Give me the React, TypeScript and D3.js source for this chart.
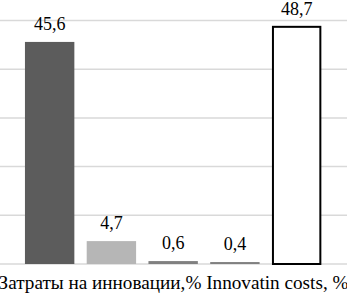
import React from 'react';
import * as d3 from 'd3';

const seriesKeys = ['s1', 's2', 's3', 's4', 's5'];
const seriesValues = [45.6, 4.7, 0.6, 0.4, 48.7];
const valueLabels = ['45,6', '4,7', '0,6', '0,4', '48,7'];
const categoryLabel = 'Затраты на инновации,% Innovatin costs, %';
const yTicks = [0, 10, 20, 30, 40, 50];

const fills = ['#5c5c5c', '#b6b6b6', '#808080', '#808080', '#ffffff'];
const strokes = ['none', 'none', 'none', 'none', '#000000'];

const width = 347;
const height = 298;
const margin = { top: 20.5, bottom: 34, left: 12.6, right: 13.3 };
const font = 'Times New Roman, Liberation Serif, serif';

const x = d3.scaleBand()
  .domain(seriesKeys)
  .range([margin.left, width - margin.right])
  .padding(0.2);

const y = d3.scaleLinear()
  .domain([0, 50])
  .range([height - margin.bottom, margin.top]);

const App: React.FC = () => (
  <div style={{ position: 'absolute', left: 0, top: 0 }}>
    <svg width={width} height={height} style={{ display: 'block', background: '#fff' }}>
      {/* grid */}
      {yTicks.map(t => (
        <line key={t} x1={0} x2={width} y1={y(t)} y2={y(t)} stroke="#d9d9d9" strokeWidth={1.5} />
      ))}

      {/* bars */}
      {seriesValues.map((v, i) => {
        const outlined = strokes[i] !== 'none';
        return (
          <rect
            key={seriesKeys[i]}
            x={(x(seriesKeys[i]) || 0) + (outlined ? 1 : 0)}
            y={y(v)}
            width={x.bandwidth() - (outlined ? 2 : 0)}
            height={y(0) - y(v)}
            fill={fills[i]}
            stroke={strokes[i]}
            strokeWidth={2}
          />
        );
      })}

      {/* value labels */}
      {seriesValues.map((v, i) => (
        <text
          key={'l' + i}
          x={(x(seriesKeys[i]) || 0) + x.bandwidth() / 2}
          y={y(v) - 12}
          textAnchor="middle"
          fontFamily={font}
          fontSize={18}
          fill="#000"
        >
          {valueLabels[i]}
        </text>
      ))}

      {/* category label */}
      <text
        x={width / 2}
        y={288.5}
        textAnchor="middle"
        fontFamily={font}
        fontSize={19.2}
        fill="#000"
      >
        {categoryLabel}
      </text>
    </svg>
  </div>
);

export default App;
